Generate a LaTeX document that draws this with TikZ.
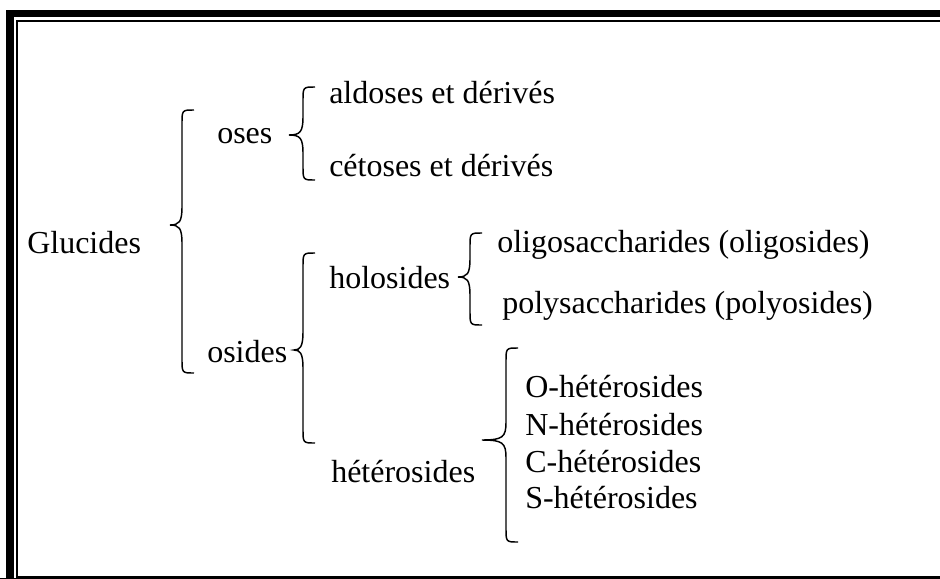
\documentclass[tikz,border=0pt]{standalone}
\usepackage{fontspec}
\setmainfont{Liberation Serif}
\usepackage{tikz}
\newcommand\bigtext{\fontsize{24}{28}\selectfont}
% word-like curly brace: x, top, bottom, tip x, tip y
\newcommand\wbrace[5]{%
  \draw[brc] ({#1+12},#2) .. controls (#1,#2) .. (#1,{#2+14})
    -- (#1,{#5-18}) .. controls (#1,{#5-3}) and ({#1-3},#5) .. (#4,#5)
    .. controls ({#1-3},#5) and (#1,{#5+3}) .. (#1,{#5+18})
    -- (#1,{#3-14}) .. controls (#1,#3) .. ({#1+12},#3);}
\tikzset{
  lbl/.style={anchor=base west, inner sep=0pt, font=\bigtext},
  brc/.style={line width=1.1pt},
}
\begin{document}
\begin{tikzpicture}[x=0.75pt,y=-0.75pt]
\useasboundingbox (0,0) rectangle (940,579);
\fill[white] (0,0) rectangle (940,579);

% to draw the double frame (cut at right and bottom)
\draw [line width=5.6pt] (940,13.5) -- (10,13.5) -- (10,579);
\fill (0,577.5) rectangle (940,579);
\draw [line width=1.5pt] (940,21) -- (17,21) -- (17,576.5) -- (940,576.5);

% to write entities
\node (glu) [lbl] at (27,253) {Glucides};
\node (ose) [lbl] at (217,143) {oses};
\node (osi) [lbl] at (207,362) {osides};

%oses side:
\node (ald) [lbl] at (329,103) {aldoses et dérivés};
\node (cet) [lbl] at (329,176) {cétoses et dérivés};

%osides side:
\node (hol) [lbl] at (329,288) {holosides};
\node (het) [lbl] at (331,482) {hétérosides};
\node (oli) [lbl] at (497,252) {oligosaccharides (oligosides)};
\node (pol) [lbl] at (502,313) {polysaccharides (polyosides)};

% heterosides
\node (ohet) [lbl] at (525,397) {O-hétérosides};
\node (nhet) [lbl] at (525,435) {N-hétérosides};
\node (chet) [lbl] at (525,472) {C-hétérosides};
\node (shet) [lbl] at (525,508) {S-hétérosides};

% to draw braces
\wbrace{182}{110}{373}{170}{225}
\wbrace{303}{87}{180}{289}{135}
\wbrace{303}{253}{443}{294}{350}
\wbrace{470}{233}{325}{458}{277}
\wbrace{506}{348}{542}{482}{440}
\end{tikzpicture}
\end{document}
